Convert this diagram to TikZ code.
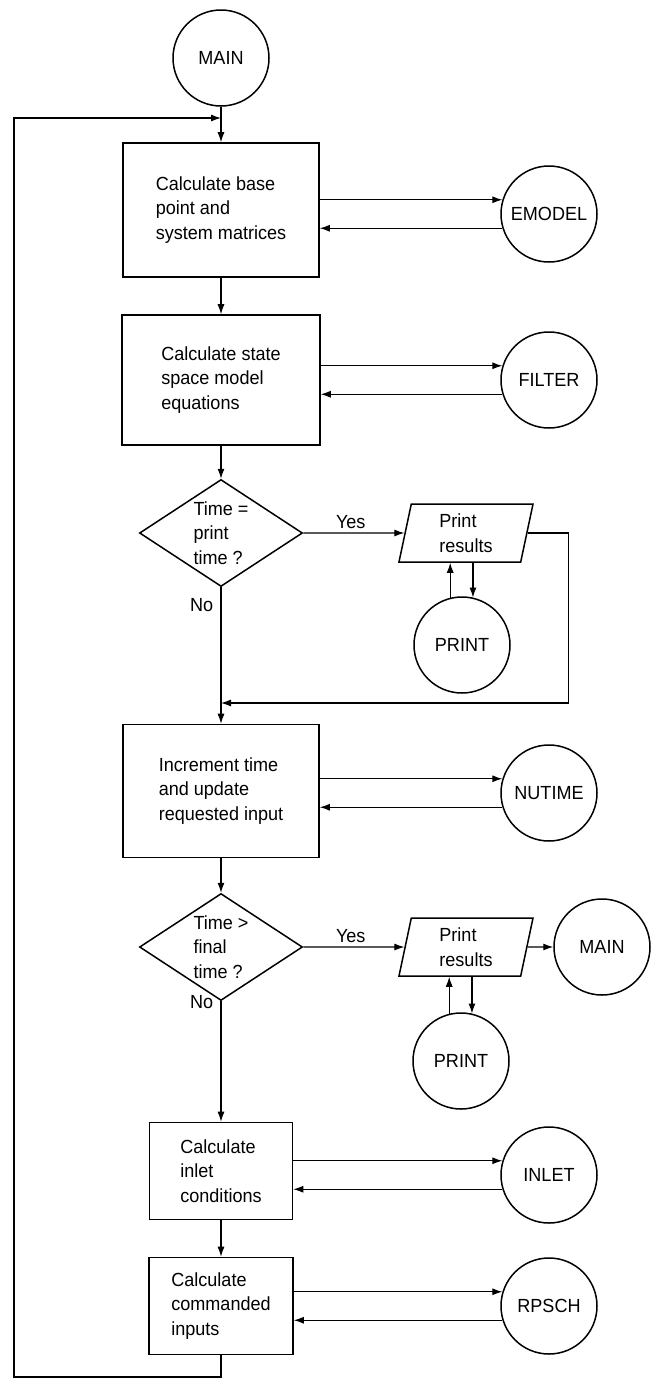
\documentclass[tikz,border=0pt]{standalone}
\usepackage{fontspec}
\setmainfont[FakeStretch=0.95]{Liberation Sans}
\usepackage{tikz}
\usetikzlibrary{shapes.geometric, arrows.meta, positioning}
\tikzstyle{block} = [rectangle, align=left, draw=black, line width=1.6pt]
\tikzstyle{sub} = [circle, minimum size=96pt, inner sep=0pt, draw=black, line width=1.5pt]
\tikzstyle{decision} = [diamond, minimum width=163pt, minimum height=107pt, inner sep=0pt, draw=black, line width=1.5pt]
\tikzstyle{io} = [trapezium, trapezium left angle=78, trapezium right angle=102, align=left, inner xsep=16pt, minimum height=58pt, draw=black, line width=1.5pt]
\tikzstyle{arrow} = [line width=1.1pt, ->, >={Latex[length=10pt, width=7pt]}]

\begin{document}
\begin{tikzpicture}[x=1pt, y=-1pt, node distance=150pt, font=\fontsize{19pt}{24.5pt}\selectfont]
\path [use as bounding box, fill=white] (0,0) rectangle (651,1382);
\node (main) [sub] at (221,58) {MAIN};
\node (base) [block, below of=main, node distance=152pt, minimum width=196pt, minimum height=134pt] {Calculate base\\point and\\system matrices};
\node (emodel) [sub, right of=base, node distance=328pt, yshift=-4pt] {EMODEL};
\node (state) [block, below of=base, node distance=170pt, minimum width=198pt, minimum height=130pt] {Calculate state\\space model\\equations};
\node (filter) [sub, right of=state, node distance=328pt] {FILTER};
\node (timeq) [decision, below of=state, node distance=153pt, label={[align=left]center:Time =\\print\\time ?}] {};
\node (prta) [io, right of=timeq, node distance=245pt] {Print\\results};
\node (printa) [sub, below of=prta, node distance=112pt, xshift=-4pt] {PRINT};
\node (incr) [block, below of=timeq, node distance=258pt, minimum width=196pt, minimum height=133pt] {Increment time\\and update\\requested input};
\node (nutime) [sub, right of=incr, node distance=328pt, yshift=-2pt] {NUTIME};
\node (timegt) [decision, below of=incr, node distance=156pt, label={[align=left]center:Time >\\final\\time ?}] {};
\node (prtb) [io, right of=timegt, node distance=245pt] {Print\\results};
\node (mainb) [sub, right of=prtb, node distance=136pt] {MAIN};
\node (printb) [sub, below of=prtb, node distance=114pt, xshift=-5pt] {PRINT};
\node (inletc) [block, below of=timegt, node distance=224pt, minimum width=143pt, minimum height=97pt] {Calculate\\inlet\\conditions};
\node (inlet) [sub, right of=inletc, node distance=328pt, yshift=-4pt] {INLET};
\node (cmd) [block, below of=inletc, node distance=135pt, minimum width=144pt, minimum height=97pt] {Calculate\\commanded\\inputs};
\node (rpsch) [sub, right of=cmd, node distance=328pt] {RPSCH};
\coordinate (loopin) at (221,118);
\coordinate (back) at (14,1377);
\coordinate (merge) at (221,703);

\draw [arrow] (main) -- (base);
\draw [arrow] (cmd.south) |- (back) |- (loopin);
\draw [arrow] (emodel.163 -| base.east) -- (emodel.163);
\draw [arrow] (emodel.197) -- (emodel.197 -| base.east);
\draw [arrow] (base) -- (state);
\draw [arrow] (filter.163 -| state.east) -- (filter.163);
\draw [arrow] (filter.197) -- (filter.197 -| state.east);
\draw [arrow] (state) -- (timeq);
\draw [arrow] (timeq.east) -- node[above, pos=0.47] {Yes} (prta);
\draw [arrow] (printa.104) -- (printa.104 |- prta.south);
\draw [arrow] (printa.77 |- prta.south) -- (printa.77);
\draw [arrow] (prta.east) -- ++(41,0) |- (merge);
\draw [arrow] (timeq) -- node[left, pos=0.13, xshift=-4pt] {No} (incr);
\draw [arrow] (nutime.163 -| incr.east) -- (nutime.163);
\draw [arrow] (nutime.197) -- (nutime.197 -| incr.east);
\draw [arrow] (incr) -- (timegt);
\draw [arrow] (timegt.east) -- node[above, pos=0.47] {Yes} (prtb);
\draw [arrow] (prtb) -- (mainb);
\draw [arrow] (printb.104) -- (printb.104 |- prtb.south);
\draw [arrow] (printb.77 |- prtb.south) -- (printb.77);
\draw [arrow] (timegt) -- node[left, pos=0.01, xshift=-4pt] {No} (inletc);
\draw [arrow] (inlet.163 -| inletc.east) -- (inlet.163);
\draw [arrow] (inlet.197) -- (inlet.197 -| inletc.east);
\draw [arrow] (inletc) -- (cmd);
\draw [arrow] (rpsch.163 -| cmd.east) -- (rpsch.163);
\draw [arrow] (rpsch.197) -- (rpsch.197 -| cmd.east);
\end{tikzpicture}
\end{document}
